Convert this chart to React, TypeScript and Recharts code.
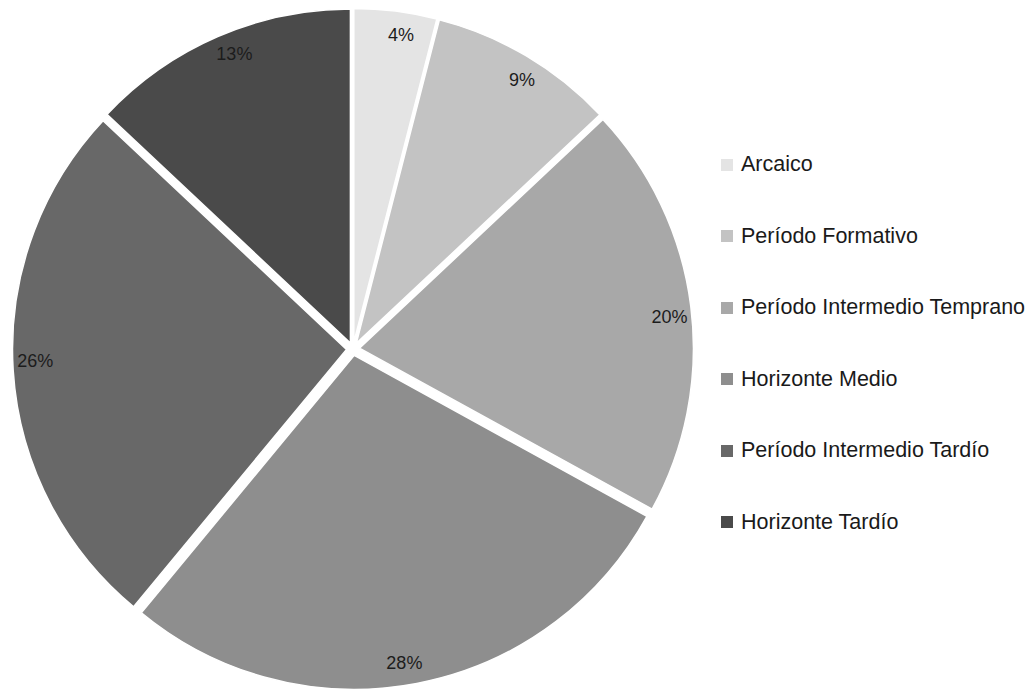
import { PieChart, Pie, Cell, Sector, Legend } from 'recharts';

// Períodos (en sentido horario desde las 12)
const PERIODS = [
  'Arcaico',
  'Período Formativo',
  'Período Intermedio Temprano',
  'Horizonte Medio',
  'Período Intermedio Tardío',
  'Horizonte Tardío',
];
const SHARES = [4, 9, 20, 28, 26, 13];
const GREYS = ['#e4e4e4', '#c3c3c3', '#a8a8a8', '#8e8e8e', '#686868', '#4a4a4a'];

const FONT = 'Arial, "Liberation Sans", sans-serif';
const RAD = Math.PI / 180;
const EXPLODE = 6.5;
const LABEL_SHIFT = -1.5; // grados, las etiquetas de Excel van un poco en sentido horario

const data = PERIODS.map((name, i) => ({ name, value: SHARES[i] }));

/* Todas las porciones desplazadas un poco hacia afuera, como en Excel */
function ExplodedSlice(props: any) {
  const mid = (props.startAngle + props.endAngle) / 2;
  const dx = EXPLODE * Math.cos(-mid * RAD);
  const dy = EXPLODE * Math.sin(-mid * RAD);
  return <Sector {...props} cx={props.cx + dx} cy={props.cy + dy} />;
}

function PctLabel(props: any) {
  const { cx, cy, midAngle, outerRadius, value } = props;
  const r = outerRadius - 16;
  const a = midAngle + LABEL_SHIFT;
  const x = cx + r * Math.cos(-a * RAD);
  const y = cy + r * Math.sin(-a * RAD);
  return (
    <text x={x} y={y} textAnchor="middle" dominantBaseline="central" fill="#1c1c1c" fontSize={18} fontFamily={FONT}>
      {`${value}%`}
    </text>
  );
}

function SideLegend({ payload }: any) {
  const items = [...(payload ?? [])].sort(
    (a: any, b: any) => PERIODS.indexOf(a.value) - PERIODS.indexOf(b.value),
  );
  return (
    <div style={{ fontFamily: FONT }}>
      {items.map((entry: any) => (
        <div key={entry.value} style={{ height: 71.5, display: 'flex', alignItems: 'center' }}>
          <span style={{ display: 'inline-block', width: 12, height: 12, background: entry.color, marginRight: 8 }} />
          <span style={{ fontSize: 21.5, color: '#1a1a1a' }}>{entry.value}</span>
        </div>
      ))}
    </div>
  );
}

export default function App() {
  return (
    <div style={{ position: 'absolute', left: 0, top: 0, width: 1036, height: 698, background: '#fff' }}>
      <PieChart width={1036} height={698} margin={{ top: 0, right: 0, bottom: 0, left: 0 }}>
        <Pie
          data={data}
          dataKey="value"
          nameKey="name"
          cx={353}
          cy={349}
          outerRadius={334}
          startAngle={90}
          endAngle={-270}
          stroke="#fff"
          strokeWidth={1.5}
          shape={ExplodedSlice}
          label={PctLabel}
          labelLine={false}
          isAnimationActive={false}
        >
          {data.map((d, i) => (
            <Cell key={d.name} fill={GREYS[i]} />
          ))}
        </Pie>
        <Legend
          layout="vertical"
          align="right"
          verticalAlign="top"
          content={SideLegend}
          wrapperStyle={{ left: 721, top: 129, width: 315 }}
        />
      </PieChart>
    </div>
  );
}
